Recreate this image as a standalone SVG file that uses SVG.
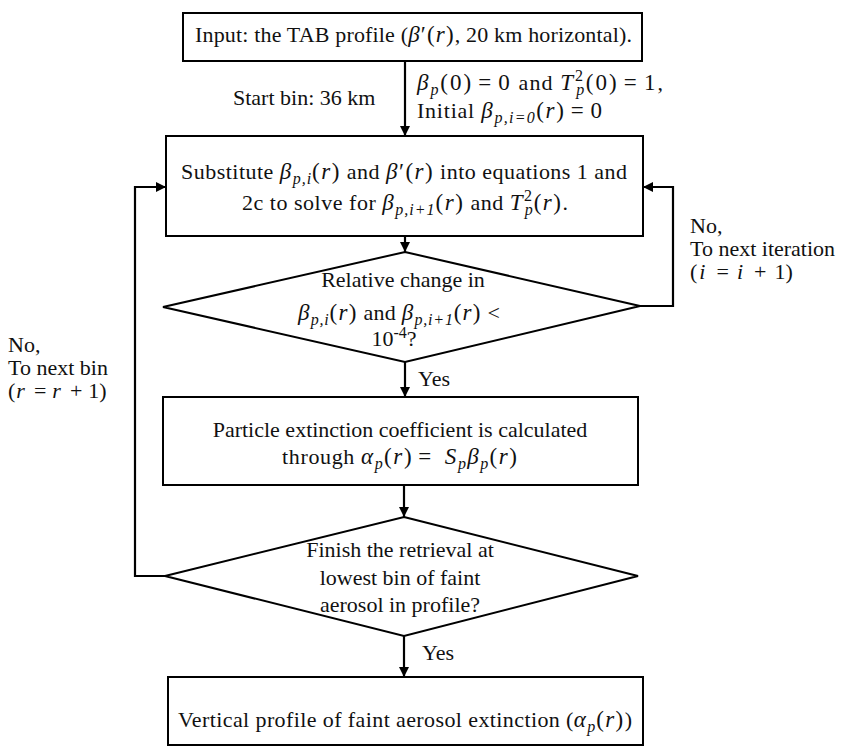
<svg xmlns="http://www.w3.org/2000/svg" width="841" height="753" viewBox="0 0 841 753">
<defs>
<marker id="ah" markerUnits="userSpaceOnUse" markerWidth="10" markerHeight="10" refX="10" refY="5" orient="auto">
<path d="M0,0 L10,5 L0,10 z" fill="#000"/>
</marker>
<style>
.n{fill:#fff;stroke:#000;stroke-width:2}
.c{fill:none;stroke:#000;stroke-width:2.2;marker-end:url(#ah)}
text{font-family:"Liberation Serif","Times New Roman",serif;font-size:22px;fill:#111}
.mx{font-size:23px;letter-spacing:1px}
.m{font-style:italic}
.s{font-size:16px;font-style:italic;letter-spacing:0.5px}
.sn{font-size:16px}
</style>
</defs>
<rect width="841" height="753" fill="#fff"/>
<g id="connectors">
<path class="c" d="M405,61 V136"/>
<path class="c" d="M405,236 V252"/>
<path class="c" d="M640,306 H673 V187 H643"/>
<path class="c" d="M405,362 V397"/>
<path class="c" d="M404,485 V517"/>
<path class="c" d="M165,576 H135 V187 H166"/>
<path class="c" d="M404,636 V677"/>
</g>
<g id="input">
<rect class="n" x="183" y="13" width="459" height="48"/>
<text x="195" y="42" textLength="437" lengthAdjust="spacing">Input: the TAB profile (<tspan class="mx"><tspan class="m">β</tspan>′(<tspan class="m">r</tspan>)</tspan>, 20 km horizontal).</text>
</g>
<g id="start-labels">
<text x="233" y="105">Start bin: 36 km</text>
<text x="417" y="90" textLength="246" lengthAdjust="spacing"><tspan class="mx"><tspan class="m">β</tspan><tspan class="s" dy="5">p</tspan><tspan dy="-5">(0)</tspan><tspan dx="5">=</tspan><tspan dx="5">0</tspan></tspan> and <tspan class="mx"><tspan class="m">T</tspan><tspan class="sn" dy="-9">2</tspan><tspan class="s" dx="-9" dy="14">p</tspan><tspan dy="-5">(0)</tspan><tspan dx="5">=</tspan><tspan dx="5">1</tspan></tspan>,</text>
<text x="417" y="118" textLength="186" lengthAdjust="spacing">Initial <tspan class="mx"><tspan class="m">β</tspan><tspan class="s" dy="5">p,i=0</tspan><tspan dy="-5">(</tspan><tspan class="m">r</tspan>)<tspan dx="5">=</tspan><tspan dx="5">0</tspan></tspan></text>
</g>
<g id="substitute">
<rect class="n" x="166" y="136" width="477" height="100"/>
<text x="181" y="179" textLength="446" lengthAdjust="spacing">Substitute <tspan class="mx"><tspan class="m">β</tspan><tspan class="s" dy="5">p,i</tspan><tspan dy="-5">(</tspan><tspan class="m">r</tspan>)</tspan> and <tspan class="mx"><tspan class="m">β</tspan>′(<tspan class="m">r</tspan>)</tspan> into equations 1 and</text>
<text x="242" y="210" textLength="326" lengthAdjust="spacing">2c to solve for <tspan class="mx"><tspan class="m">β</tspan><tspan class="s" dy="5">p,i+1</tspan><tspan dy="-5">(</tspan><tspan class="m">r</tspan>)</tspan> and <tspan class="mx"><tspan class="m">T</tspan><tspan class="sn" dy="-9">2</tspan><tspan class="s" dx="-9" dy="14">p</tspan><tspan dy="-5">(</tspan><tspan class="m">r</tspan>)</tspan>.</text>
</g>
<g id="check-change">
<polygon class="n" points="405,252 640,306 405,362 163,307"/>
<text x="403" y="287" text-anchor="middle">Relative change in</text>
<text x="298" y="320" textLength="202" lengthAdjust="spacing"><tspan class="mx"><tspan class="m">β</tspan><tspan class="s" dy="5">p,i</tspan><tspan dy="-5">(</tspan><tspan class="m">r</tspan>)</tspan> and <tspan class="mx"><tspan class="m">β</tspan><tspan class="s" dy="5">p,i+1</tspan><tspan dy="-5">(</tspan><tspan class="m">r</tspan>)</tspan> &lt;</text>
<text x="394" y="346" text-anchor="middle">10<tspan class="sn" dy="-8">-4</tspan><tspan dy="8">?</tspan></text>
</g>
<g id="iter-label">
<text x="690" y="233">No,</text>
<text x="690" y="256">To next iteration</text>
<text x="690" y="279">(<tspan class="m" dx="2">i</tspan><tspan dx="11">=</tspan><tspan class="m" dx="8">i</tspan><tspan dx="11">+</tspan><tspan dx="8">1)</tspan></text>
</g>
<g id="yes1"><text x="418" y="386">Yes</text></g>
<g id="extinction">
<rect class="n" x="163" y="397" width="475" height="88"/>
<text x="400" y="437" text-anchor="middle">Particle extinction coefficient is calculated</text>
<text x="282" y="464" textLength="236" lengthAdjust="spacing">through <tspan class="mx"><tspan class="m">α</tspan><tspan class="s" dy="5">p</tspan><tspan dy="-5">(</tspan><tspan class="m">r</tspan>)<tspan dx="5">=</tspan><tspan class="m" dx="12">S</tspan><tspan class="s" dy="5">p</tspan><tspan class="m" dy="-5">β</tspan><tspan class="s" dy="5">p</tspan><tspan dy="-5">(</tspan><tspan class="m">r</tspan>)</tspan></text>
</g>
<g id="bin-label">
<text x="8" y="352">No,</text>
<text x="8" y="375">To next bin</text>
<text x="8" y="398">(<tspan class="m" dx="1">r</tspan><tspan dx="9">=</tspan><tspan class="m" dx="6">r</tspan><tspan dx="9">+</tspan><tspan dx="6">1)</tspan></text>
</g>
<g id="check-finish">
<polygon class="n" points="404,517 638,576 404,636 165,576"/>
<text x="400" y="557" text-anchor="middle">Finish the retrieval at</text>
<text x="400" y="585" text-anchor="middle">lowest bin of faint</text>
<text x="400" y="612" text-anchor="middle">aerosol in profile?</text>
</g>
<g id="yes2"><text x="422" y="660">Yes</text></g>
<g id="output">
<rect class="n" x="168" y="677" width="475" height="68"/>
<text x="178" y="727" textLength="454" lengthAdjust="spacing">Vertical profile of faint aerosol extinction (<tspan class="mx"><tspan class="m">α</tspan><tspan class="s" dy="5">p</tspan><tspan dy="-5">(</tspan><tspan class="m">r</tspan>)</tspan>)</text>
</g>
</svg>
